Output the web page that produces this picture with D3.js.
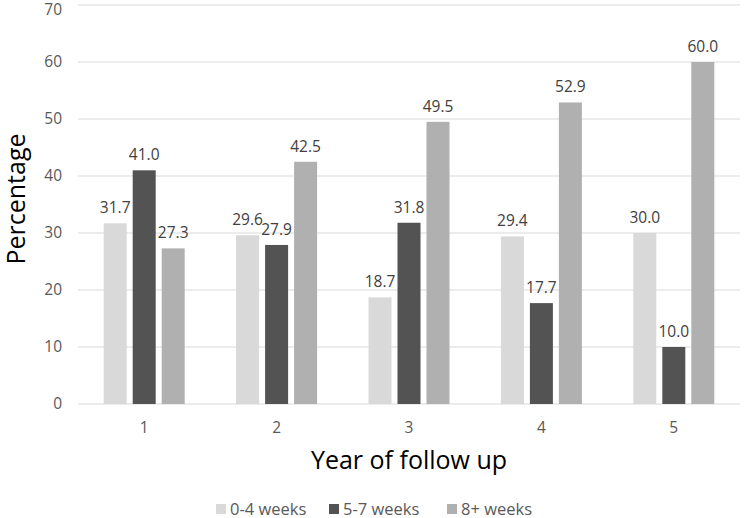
<!DOCTYPE html>
<html><head><meta charset="utf-8">
<script src="https://cdn.jsdelivr.net/npm/d3@7"></script>
<style>body{margin:0;background:#fff}svg{display:block;font-family:"Open Sans",sans-serif}</style>
</head><body><svg id="c" width="750" height="518"></svg>
<script>
const categories = ["1","2","3","4","5"];
const seriesNames = ["0-4 weeks","5-7 weeks","8+ weeks"];
const s0_4 = [31.7, 29.6, 18.7, 29.4, 30.0];
const s5_7 = [41.0, 27.9, 31.8, 17.7, 10.0];
const s8 = [27.3, 42.5, 49.5, 52.9, 60.0];
const yTicks = [0,10,20,30,40,50,60,70];
const colors = ["#d9d9d9","#535353","#b0b0b0"];

(function(){
const series = [s0_4, s5_7, s8];
const svg = d3.select("#c");
const pL = 78, pR = 740, pT = 5, pB = 404;
const x = d3.scaleBand().domain(categories).range([pL,pR]);
const y = d3.scaleLinear().domain([0,70]).range([pB,pT]);
const barW = 23, gap = 6;
const inner = d3.scaleBand().domain(d3.range(3)).range([-(barW*3+gap*2)/2,(barW*3+gap*2)/2]).paddingInner(gap/(barW+gap)).paddingOuter(0);

svg.append("g").selectAll("line").data(yTicks).join("line")
  .attr("x1",pL).attr("x2",pR).attr("y1",d=>y(d)).attr("y2",d=>y(d))
  .attr("stroke","#d9d9d9").attr("stroke-width",1);

const yAxis = d3.axisLeft(y).tickValues(yTicks).tickSize(0).tickPadding(16);
const ga = svg.append("g").attr("transform",`translate(${pL},0)`).call(yAxis);
ga.select(".domain").remove();
ga.selectAll("text").attr("font-size",15.5).attr("fill","#595959").attr("font-family","'Open Sans',sans-serif");
ga.selectAll(".tick").filter(d=>d===70).select("text").attr("dy","0.62em");

const xAxis = d3.axisBottom(x).tickSize(0).tickPadding(18);
const gx = svg.append("g").attr("transform",`translate(0,${pB})`).call(xAxis);
gx.select(".domain").remove();
gx.selectAll("text").attr("font-size",15.5).attr("fill","#595959").attr("font-family","'Open Sans',sans-serif");

series.forEach((vals,si)=>{
  const g = svg.append("g");
  g.selectAll("rect").data(vals).join("rect")
    .attr("x",(d,i)=>x(categories[i])+x.bandwidth()/2+inner(si))
    .attr("width",inner.bandwidth())
    .attr("y",d=>y(d)).attr("height",d=>y(0)-y(d))
    .attr("fill",colors[si]);
  g.selectAll("text").data(vals).join("text")
    .attr("x",(d,i)=>x(categories[i])+x.bandwidth()/2+inner(si)+inner.bandwidth()/2)
    .attr("y",d=>y(d)-10)
    .attr("text-anchor","middle").attr("font-size",15.5).attr("fill","#404040")
    .text(d=>d.toFixed(1));
});

svg.append("text").attr("x",409).attr("y",469).attr("text-anchor","middle")
  .attr("font-size",25).attr("fill","#000").text("Year of follow up");
svg.append("text").attr("transform","translate(25,199) rotate(-90)").attr("text-anchor","middle")
  .attr("font-size",25).attr("fill","#000").text("Percentage");

const legX = [216, 329, 447];
const lg = svg.append("g").selectAll("g").data(seriesNames).join("g")
  .attr("transform",(d,i)=>`translate(${legX[i]},504)`);
lg.append("rect").attr("width",10).attr("height",10).attr("fill",(d,i)=>colors[i]);
lg.append("text").attr("x",14).attr("y",10.5).attr("font-size",16.5).attr("fill","#595959").text(d=>d);
})();
</script></body></html>
